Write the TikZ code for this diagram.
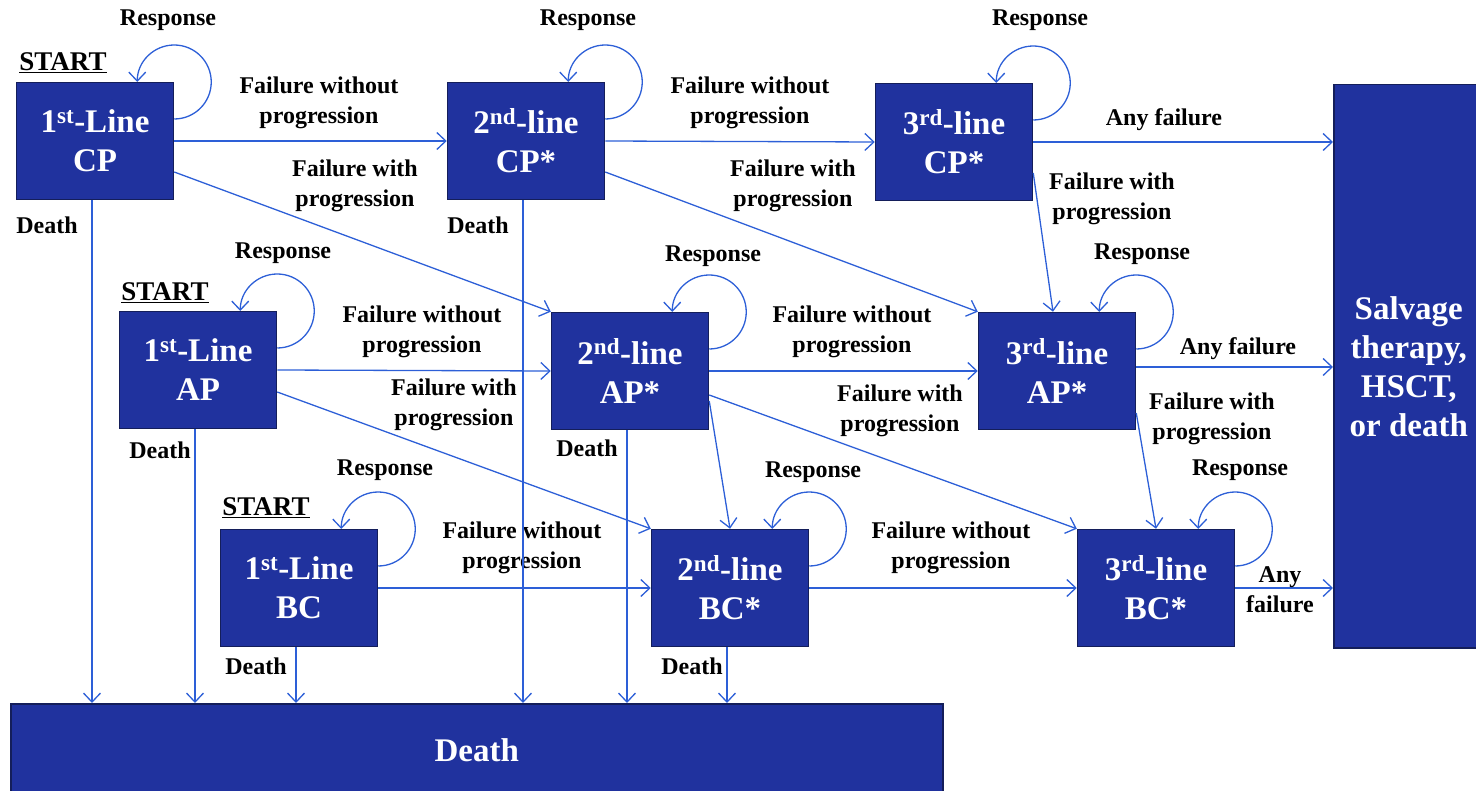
\documentclass[tikz,border=0pt]{standalone}
\usepackage{fontspec}
\setmainfont{Liberation Serif}
\usetikzlibrary{arrows.meta}

\definecolor{stateblue}{RGB}{32,50,158}
\definecolor{stateedge}{RGB}{20,30,90}
\definecolor{linkblue}{RGB}{45,95,215}

\tikzset{
  state/.style={draw=stateedge, line width=1.5pt, fill=stateblue, text=white,
    font=\bfseries\fontsize{33}{39}\selectfont, align=center,
    minimum width=157, minimum height=117, inner sep=0pt},
  lbl/.style={font=\bfseries\fontsize{24}{30}\selectfont, align=center, inner sep=0pt},
  startlbl/.style={font=\bfseries\fontsize{27}{30}\selectfont, inner sep=0pt},
  link/.style={draw=linkblue, line width=1.3pt, -{Straight Barb[length=9pt,width=17pt]}}
}

\begin{document}
\begin{tikzpicture}[x=1pt,y=1pt]
\useasboundingbox (0,0) rectangle (1476,-791);

% states
\node[state] (cp1) at (95,-141) {1\textsuperscript{st}-Line\\CP};
\node[state] (cp2) at (526,-141) {2\textsuperscript{nd}-line\\CP*};
\node[state] (cp3) at (954,-142) {3\textsuperscript{rd}-line\\CP*};
\node[state] (ap1) at (198,-370) {1\textsuperscript{st}-Line\\AP};
\node[state] (ap2) at (630,-371) {2\textsuperscript{nd}-line\\AP*};
\node[state] (ap3) at (1057,-371) {3\textsuperscript{rd}-line\\AP*};
\node[state] (bc1) at (299,-588) {1\textsuperscript{st}-Line\\BC};
\node[state] (bc2) at (730,-588) {2\textsuperscript{nd}-line\\BC*};
\node[state] (bc3) at (1156,-588) {3\textsuperscript{rd}-line\\BC*};
\node[state, anchor=north west, minimum width=150, minimum height=563] (salv) at (1333,-84) {Salvage\\therapy,\\HSCT,\\or death};
\node[state, anchor=north west, minimum width=932, minimum height=92] (death) at (10,-703) {Death};

\node[startlbl] at (63,-63) {\underline{START}};
\node[startlbl] at (165,-293) {\underline{START}};
\node[startlbl] at (266,-508) {\underline{START}};

% responses
\foreach \s in {cp1,cp2,cp3,ap1,ap2,ap3,bc1,bc2,bc3}
  \draw[link] ([yshift=22]\s.east) arc[start angle=-90, end angle=180, radius=37];

\node[lbl] at (168,-20) {Response};
\node[lbl] at (588,-20) {Response};
\node[lbl] at (1040,-20) {Response};
\node[lbl] at (283,-253) {Response};
\node[lbl] at (713,-256) {Response};
\node[lbl] at (1142,-254) {Response};
\node[lbl] at (385,-470) {Response};
\node[lbl] at (813,-472) {Response};
\node[lbl] at (1240,-470) {Response};

% failure without progression
\draw[link] (cp1.east) -- (cp2.west);
\draw[link] (cp2.east) -- (cp3.west);
\draw[link] (ap1.east) -- (ap2.west);
\draw[link] (ap2.east) -- (ap3.west);
\draw[link] (bc1.east) -- (bc2.west);
\draw[link] (bc2.east) -- (bc3.west);
\node[lbl] at (319,-103) {Failure without\\progression};
\node[lbl] at (750,-103) {Failure without\\progression};
\node[lbl] at (422,-332) {Failure without\\progression};
\node[lbl] at (852,-332) {Failure without\\progression};
\node[lbl] at (522,-548) {Failure without\\progression};
\node[lbl] at (951,-548) {Failure without\\progression};

% failure with progression
\draw[link] ([yshift=-31]cp1.east) -- (ap2.north west);
\draw[link] ([yshift=-31]cp2.east) -- (ap3.north west);
\draw[link] ([yshift=-31]cp3.east) -- ([xshift=-4]ap3.north);
\draw[link] ([yshift=-22]ap1.east) -- (bc2.north west);
\draw[link] ([yshift=-24]ap2.east) -- (bc3.north west);
\draw[link] ([yshift=-30]ap2.east) -- (bc2.north);
\draw[link] ([yshift=-42]ap3.east) -- (bc3.north);
\node[lbl] at (355,-186) {Failure with\\progression};
\node[lbl] at (793,-186) {Failure with\\progression};
\node[lbl] at (1112,-199) {Failure with\\progression};
\node[lbl] at (454,-405) {Failure with\\progression};
\node[lbl] at (900,-411) {Failure with\\progression};
\node[lbl] at (1212,-419) {Failure with\\progression};

% any failure
\draw[link] (cp3.east) -- (cp3.east -| salv.west);
\draw[link] ([yshift=4]ap3.east) -- ([yshift=4]ap3.east -| salv.west);
\draw[link] (bc3.east) -- (bc3.east -| salv.west);
\node[lbl] at (1164,-120) {Any failure};
\node[lbl] at (1238,-349) {Any failure};
\node[lbl] at (1280,-590) {Any\\failure};

% death
\foreach \s in {cp1,cp2,ap1,ap2,bc1,bc2}
  \draw[link] ([xshift=-3]\s.south) -- ([xshift=-3]\s.south |- death.north);
\node[lbl] at (47,-225) {Death};
\node[lbl] at (478,-225) {Death};
\node[lbl] at (160,-450) {Death};
\node[lbl] at (587,-448) {Death};
\node[lbl] at (256,-666) {Death};
\node[lbl] at (692,-666) {Death};

\end{tikzpicture}
\end{document}
